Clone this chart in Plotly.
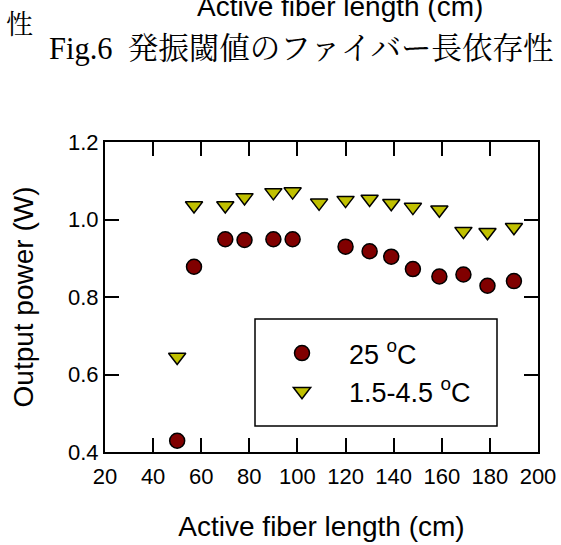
import plotly.graph_objects as go

# Data
length_25C = [50, 57, 70, 78, 90, 98, 120, 130, 139, 148, 159, 169, 179, 190]
power_25C = [0.429, 0.878, 0.949, 0.947, 0.949, 0.949, 0.930, 0.918, 0.904, 0.872, 0.853, 0.858, 0.829, 0.841]

length_low = [50, 57, 70, 78, 90, 98, 109, 120, 130, 139, 148, 159, 169, 179, 190]
power_low = [0.645, 1.036, 1.036, 1.057, 1.070, 1.072, 1.043, 1.050, 1.053, 1.042, 1.032, 1.025, 0.970, 0.967, 0.980]

x_ticks = [20, 40, 60, 80, 100, 120, 140, 160, 180, 200]
y_ticks = [0.4, 0.6, 0.8, 1.0, 1.2]

SANS = "Liberation Sans, Arial, sans-serif"
SERIF = "Liberation Serif, Times New Roman, Noto Serif CJK JP, Noto Sans CJK JP, serif"

fig = go.Figure()
fig.add_trace(go.Scatter(
    x=length_25C, y=power_25C, mode="markers", name="25 <sup>o</sup>C",
    marker=dict(symbol="circle", size=15, color="#800000",
                line=dict(color="black", width=1.5)),
))
fig.add_trace(go.Scatter(
    x=length_low, y=power_low, mode="markers", name="1.5-4.5 <sup>o</sup>C",
    marker=dict(symbol="triangle-down", size=15, color="#c0c000",
                line=dict(color="black", width=1.5)),
))

axis_common = dict(
    showline=True, linecolor="black", linewidth=2, mirror="ticks",
    ticks="inside", ticklen=14, tickwidth=2, tickcolor="black",
    showgrid=False, zeroline=False, automargin=False,
    tickfont=dict(family=SANS, size=22, color="black"),
)

fig.update_xaxes(
    range=[20, 200], tickvals=x_ticks, ticklabelstandoff=4,
    title=dict(text="Active fiber length (cm)", font=dict(family=SANS, size=28, color="black"), standoff=28),
    **axis_common,
)
fig.update_yaxes(
    range=[0.4, 1.2], tickvals=y_ticks, tickformat=".1f",
    title=dict(text="Output power (W)", font=dict(family=SANS, size=28, color="black"), standoff=26),
    **axis_common,
)

# legend frame
fig.add_shape(type="rect", xref="paper", yref="paper",
              x0=(255 - 105) / 433, x1=(497 - 105) / 433,
              y0=(452 - 426) / 310, y1=(452 - 319) / 310,
              line=dict(color="black", width=1.5), fillcolor="rgba(0,0,0,0)")

fig.update_layout(
    width=561, height=545,
    margin=dict(l=105, r=23, t=142, b=93, autoexpand=False),
    paper_bgcolor="white", plot_bgcolor="white",
    showlegend=True,
    legend=dict(
        x=(255 - 105) / 433, y=(452 - 329) / 310, xanchor="left", yanchor="top",
        bgcolor="rgba(0,0,0,0)", borderwidth=0,
        font=dict(family=SANS, size=27, color="black"),
        itemwidth=84, tracegroupgap=0,
    ),
    annotations=[
        dict(text="Fig.6 \u00a0発振閾値のファイバー長依存性", xref="paper", yref="paper",
             x=(47 - 105) / 433, y=(452 - 49) / 310, xanchor="left", yanchor="middle",
             showarrow=False, font=dict(family=SERIF, size=30.5, color="black")),
        dict(text="性", xref="paper", yref="paper",
             x=(4 - 105) / 433, y=(452 - 25) / 310, xanchor="left", yanchor="middle",
             showarrow=False, font=dict(family=SERIF, size=27, color="black")),
        dict(text="Active fiber length (cm)", xref="paper", yref="paper",
             x=(340 - 105) / 433, y=(452 - 6) / 310, xanchor="center", yanchor="middle",
             showarrow=False, font=dict(family=SANS, size=28, color="black")),
    ],
)

fig.write_html("out.html", config={"displayModeBar": False},
               post_script="document.body.style.margin='0';")
